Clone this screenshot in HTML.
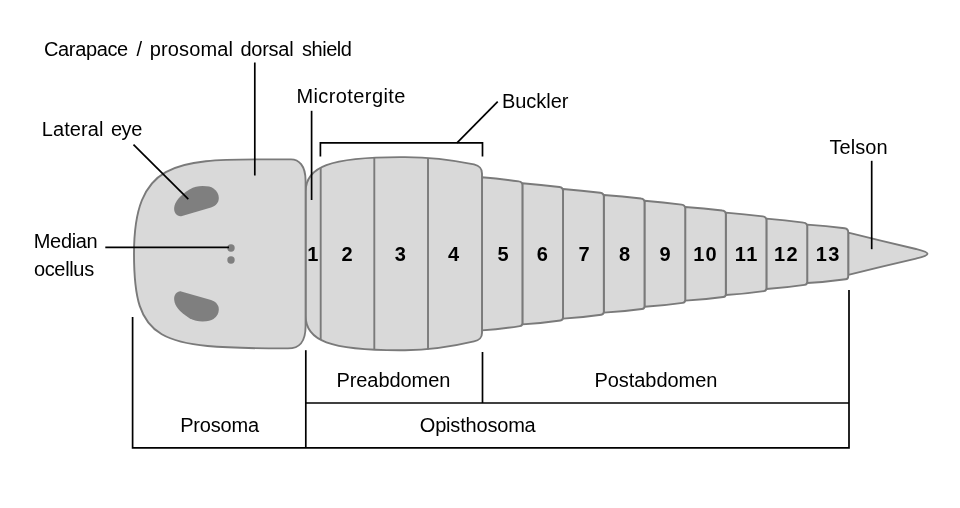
<!DOCTYPE html>
<html lang="en">
<head>
<meta charset="utf-8">
<title>Eurypterid body plan</title>
<style>
html,body{margin:0;padding:0;background:#fff;}
body{width:960px;height:508px;overflow:hidden;}
svg{display:block;will-change:transform;}
text{font-family:"Liberation Sans", sans-serif;fill:#000;}
</style>
</head>
<body>
<svg width="960" height="508" viewBox="0 0 960 508">
<rect width="960" height="508" fill="#fff"/>
<path d="M848.3,232.7 Q882,241.2 916,249 C922,250.5 927.5,251.8 927.5,253.8 C927.5,255.8 922,257.1 916,258.6 Q882,266.4 848.3,274.9 Z" fill="#d9d9d9" stroke="#7a7a7a" stroke-width="1.9" stroke-linejoin="round"/>
<path d="M807.2,224.6 Q825.9,225.9 844.6,228.2 Q848.2,228.6 848.2,232.2 L848.2,276.4 Q848.2,279.0 845.6,279.3 Q826.4,282.0 807.2,283.0 Z" fill="#d9d9d9" stroke="#7a7a7a" stroke-width="1.9" stroke-linejoin="round"/>
<path d="M766.4,218.6 Q785.0,220.1 803.6,222.6 Q807.2,223.0 807.2,226.6 L807.2,282.0 Q807.2,284.6 804.6,284.9 Q785.5,287.8 766.4,289.0 Z" fill="#d9d9d9" stroke="#7a7a7a" stroke-width="1.9" stroke-linejoin="round"/>
<path d="M725.8,212.6 Q744.3,214.0 762.8,216.4 Q766.4,216.8 766.4,220.4 L766.4,288.2 Q766.4,290.8 763.8,291.1 Q744.8,293.9 725.8,295.0 Z" fill="#d9d9d9" stroke="#7a7a7a" stroke-width="1.9" stroke-linejoin="round"/>
<path d="M685.2,207.0 Q703.7,208.2 722.2,210.5 Q725.8,210.8 725.8,214.4 L725.8,294.2 Q725.8,296.8 723.2,297.0 Q704.2,299.7 685.2,300.6 Z" fill="#d9d9d9" stroke="#7a7a7a" stroke-width="1.9" stroke-linejoin="round"/>
<path d="M644.5,200.8 Q663.0,202.2 681.6,204.6 Q685.2,205.0 685.2,208.6 L685.2,300.0 Q685.2,302.6 682.6,302.9 Q663.5,305.7 644.5,306.8 Z" fill="#d9d9d9" stroke="#7a7a7a" stroke-width="1.9" stroke-linejoin="round"/>
<path d="M603.8,195.0 Q622.3,196.2 640.9,198.5 Q644.5,198.8 644.5,202.4 L644.5,306.2 Q644.5,308.8 641.9,309.0 Q622.8,311.7 603.8,312.6 Z" fill="#d9d9d9" stroke="#7a7a7a" stroke-width="1.9" stroke-linejoin="round"/>
<path d="M563.0,189.0 Q581.6,190.4 600.2,192.8 Q603.8,193.2 603.8,196.8 L603.8,311.8 Q603.8,314.4 601.2,314.7 Q582.1,317.5 563.0,318.6 Z" fill="#d9d9d9" stroke="#7a7a7a" stroke-width="1.9" stroke-linejoin="round"/>
<path d="M522.4,183.2 Q540.9,184.6 559.4,187.0 Q563.0,187.4 563.0,191.0 L563.0,317.6 Q563.0,320.2 560.4,320.5 Q541.4,323.3 522.4,324.4 Z" fill="#d9d9d9" stroke="#7a7a7a" stroke-width="1.9" stroke-linejoin="round"/>
<path d="M481.8,177.2 Q500.3,178.8 518.8,181.4 Q522.4,181.8 522.4,185.4 L522.4,323.2 Q522.4,325.8 519.8,326.1 Q500.8,329.1 481.8,330.4 Z" fill="#d9d9d9" stroke="#7a7a7a" stroke-width="1.9" stroke-linejoin="round"/>
<path d="M305.6,191.5 C305.6,167 329.5,157.1 400,157.1 L405,157.1 C430,157.1 455,160.5 474,164.4 C479.5,165.8 482,168 482,173.5 L482,333 C482,338 479.5,340 474,341.4 C455,345.9 430,350.2 405,350.2 L400,350.2 C329.5,350.3 305.6,340.6 305.6,316.1 Z" fill="#d9d9d9" stroke="#7a7a7a" stroke-width="1.9" stroke-linejoin="round"/>
<line x1="320.7" y1="167.7" x2="320.7" y2="339.9" stroke="#7a7a7a" stroke-width="1.9"/>
<line x1="374.3" y1="157.6" x2="374.3" y2="349.8" stroke="#7a7a7a" stroke-width="1.9"/>
<line x1="428" y1="158" x2="428" y2="349.4" stroke="#7a7a7a" stroke-width="1.9"/>
<path d="M134,253.8 C134,161.8 175.9,159.4 262.4,159.4 L291,159.4 C298.4,159.4 305.6,165 305.6,181 L305.6,326 C305.6,343 299,348.4 288,348.4 L284.4,348.4 C157.9,348.4 134,342.3 134,253.8 Z" fill="#d9d9d9" stroke="#7a7a7a" stroke-width="1.9" stroke-linejoin="round"/>
<path d="M181.2,216.2 C177,216.6 173.6,213 174.2,207.5 C174.9,201.5 179.3,195.8 189.5,189.4 C194,187 198,186.1 202.5,186.1 C208,186.1 211,186.8 213.5,188.5 C217,191 218.8,194 218.8,198 C218.8,202.5 216,205.8 211,207.5 Z" fill="#7f7f7f"/>
<path d="M181.2,216.2 C177,216.6 173.6,213 174.2,207.5 C174.9,201.5 179.3,195.8 189.5,189.4 C194,187 198,186.1 202.5,186.1 C208,186.1 211,186.8 213.5,188.5 C217,191 218.8,194 218.8,198 C218.8,202.5 216,205.8 211,207.5 Z" fill="#7f7f7f" transform="translate(0,507.6) scale(1,-1)"/>
<circle cx="231" cy="248" r="3.7" fill="#7f7f7f"/>
<circle cx="231" cy="260" r="3.7" fill="#7f7f7f"/>
<path d="M254.8,62.5 L254.8,175.5" stroke="#000" stroke-width="1.7" fill="none"/>
<path d="M311.6,110.8 L311.6,200" stroke="#000" stroke-width="1.7" fill="none"/>
<path d="M133.5,144.6 L188.3,199.2" stroke="#000" stroke-width="1.7" fill="none"/>
<path d="M105.3,247.4 L229,247.4" stroke="#000" stroke-width="1.7" fill="none"/>
<path d="M320.4,156.6 L320.4,142.8 L482.5,142.8 L482.5,156.6" stroke="#000" stroke-width="1.7" fill="none"/>
<path d="M457,142.8 L497.7,101.6" stroke="#000" stroke-width="1.7" fill="none"/>
<path d="M871.7,160.8 L871.7,249.2" stroke="#000" stroke-width="1.7" fill="none"/>
<path d="M132.6,317 L132.6,447.9 L849,447.9 L849,290" stroke="#000" stroke-width="1.7" fill="none"/>
<path d="M305.8,350.2 L305.8,447.9" stroke="#000" stroke-width="1.7" fill="none"/>
<path d="M305.8,403 L849,403" stroke="#000" stroke-width="1.7" fill="none"/>
<path d="M482.5,352 L482.5,403" stroke="#000" stroke-width="1.7" fill="none"/>
<text y="55.7" font-size="20"><tspan x="44" letter-spacing="-0.36">Carapace</tspan> <tspan x="136.5">/</tspan> <tspan x="149.8" letter-spacing="0.14">prosomal</tspan> <tspan x="240.4" letter-spacing="-0.24">dorsal</tspan> <tspan x="302" letter-spacing="-0.48">shield</tspan></text>
<text x="296.4" y="103.4" font-size="20" letter-spacing="0.41">Microtergite</text>
<text x="501.9" y="107.9" font-size="20" letter-spacing="-0.03">Buckler</text>
<text y="136.2" font-size="20"><tspan x="41.8" letter-spacing="0.08">Lateral</tspan> <tspan x="110.9" letter-spacing="-0.4">eye</tspan></text>
<text x="829.4" y="153.7" font-size="20" letter-spacing="0.06">Telson</text>
<text x="33.8" y="248.4" font-size="20" letter-spacing="-0.34">Median</text>
<text x="33.9" y="276.2" font-size="20" letter-spacing="-0.33">ocellus</text>
<text x="336.4" y="387.4" font-size="20" letter-spacing="-0.06">Preabdomen</text>
<text x="594.5" y="387.4" font-size="20" letter-spacing="-0.06">Postabdomen</text>
<text x="180.2" y="432.1" font-size="20" letter-spacing="-0.18">Prosoma</text>
<text x="419.8" y="432.1" font-size="20" letter-spacing="-0.19">Opisthosoma</text>
<text x="307.3" y="260.9" font-size="20" font-weight="bold">1</text>
<text x="341.4" y="260.9" font-size="20" font-weight="bold">2</text>
<text x="394.8" y="260.9" font-size="20" font-weight="bold">3</text>
<text x="448" y="260.9" font-size="20" font-weight="bold">4</text>
<text x="497.4" y="260.9" font-size="20" font-weight="bold">5</text>
<text x="536.8" y="260.9" font-size="20" font-weight="bold">6</text>
<text x="578.6" y="260.9" font-size="20" font-weight="bold">7</text>
<text x="619.1" y="260.9" font-size="20" font-weight="bold">8</text>
<text x="659.6" y="260.9" font-size="20" font-weight="bold">9</text>
<text x="693.2" y="260.9" font-size="20" font-weight="bold" letter-spacing="1.2">10</text>
<text x="734.7" y="260.9" font-size="20" font-weight="bold" letter-spacing="1.6">11</text>
<text x="774" y="260.9" font-size="20" font-weight="bold" letter-spacing="1.5">12</text>
<text x="815.8" y="260.9" font-size="20" font-weight="bold" letter-spacing="1.4">13</text>
</svg>
</body>
</html>
